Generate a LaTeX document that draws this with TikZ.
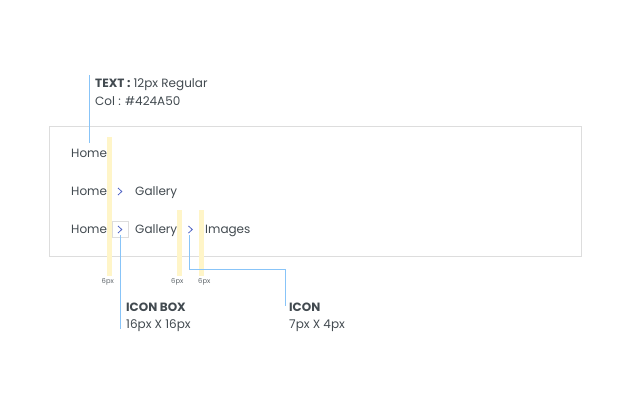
\documentclass[tikz,border=0pt]{standalone}
\usepackage{fontspec}
\setmainfont{Poppins}
\usetikzlibrary{calc}
\definecolor{txt}{HTML}{424A50}
\definecolor{lead}{HTML}{88C4F8}
\definecolor{hl}{HTML}{FFF5C8}
\definecolor{frame}{HTML}{DDDDDD}
\definecolor{chev}{HTML}{4F63C4}
\begin{document}
\begin{tikzpicture}[x=1pt,y=-1pt,
  crumb/.style={anchor=base west,inner sep=0pt,font=\fontsize{12}{14}\selectfont,text=txt},
  note/.style={anchor=base west,inner sep=0pt,font=\fontsize{12}{14}\selectfont,text=txt},
  tiny/.style={anchor=base west,inner sep=0pt,font=\fontsize{6.8}{8}\selectfont,text=txt!85},
  leader/.style={draw=lead,line width=0.9pt},
  chevline/.style={draw=chev,line width=0.8pt},
  gap/.style={fill=hl}]
\useasboundingbox (0,0) rectangle (631,407);
% outer frame
\draw[frame,line width=1pt] (49,126) rectangle (581.5,256);
% yellow spacing bars
\fill[gap] (106.5,137) rectangle (112,276);
\fill[gap] (176.5,210) rectangle (182,276);
\fill[gap] (198.5,210) rectangle (204,276);
% rows
\node[crumb] (h1) at (71,157) {Home};
\node[crumb] (h2) at (71,195) {Home};
\node[crumb] (g2) at (135,195) {Gallery};
\node[crumb] (h3) at (71,233.5) {Home};
\node[crumb] (g3) at (135,233.5) {Gallery};
\node[crumb] (i3) at (205,233.5) {Images};
% icon box
\node[draw=frame,line width=0.8pt,minimum width=16pt,minimum height=16pt,inner sep=0pt] (ib) at (120.3,229) {};
% chevrons
\coordinate (c2) at (120,191.5);
\coordinate (c3) at (120,229.5);
\coordinate (c4) at (190.5,229.5);
\foreach \c in {c2,c3,c4}{
  \draw[chevline] ($(\c)+(-2,-3.5)$) -- ($(\c)+(1.8,0)$) -- ($(\c)+(-2,3.5)$);
}
% 6px labels
\node[tiny] (s1) at (101.5,283) {6px};
\node[tiny] (s2) at (171,283) {6px};
\node[tiny] (s3) at (198,283) {6px};
% annotations
\node[note] (t1) at (95,87) {\textbf{TEXT :} 12px Regular};
\node[note] (t2) at (95,105.5) {Col : \#424A50};
\node[note] (b1) at (126,311.5) {\textbf{ICON BOX}};
\node[note] (b2) at (126,328) {16px X 16px};
\node[note] (n1) at (289,311.5) {\textbf{ICON}};
\node[note] (n2) at (289,328) {7px X 4px};
% leader lines
\coordinate (l1a) at (89.3,75);
\coordinate (l1b) at (89.3,143);
\draw[leader] (l1a) -- (l1b);
\coordinate (l2a) at (120.5,235);
\coordinate (l2b) at (120.5,329);
\draw[leader] (l2a) -- (l2b);
\coordinate (l3a) at (189,235);
\coordinate (l3b) at (285,306);
\draw[leader] (l3a) |- (285,269) -- (l3b);
\end{tikzpicture}
\end{document}
